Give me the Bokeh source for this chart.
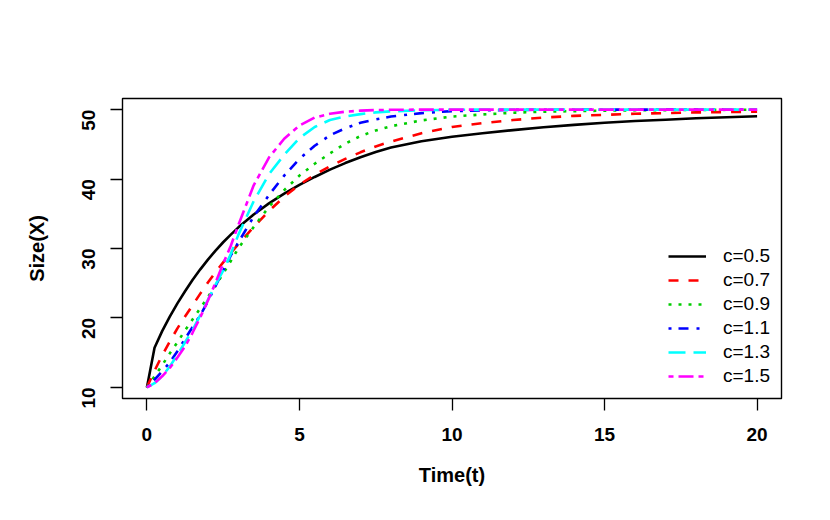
import math
from bokeh.plotting import figure
from bokeh.models import Range1d, FixedTicker, Legend
from bokeh.embed import file_html
from bokeh.resources import INLINE

# ---- data ----
t = [0, 0.25, 0.5, 0.75, 1, 1.25, 1.5, 1.75, 2, 2.25, 2.5, 2.75, 3, 3.5, 4, 4.5,
     5, 5.5, 6, 6.5, 7, 7.5, 8, 9, 10, 11, 12, 13, 14, 15, 16, 17, 18, 19, 20]

c05 = [10, 15.7, 18.1, 20.2, 22.1, 23.85, 25.5, 27.0, 28.4, 29.7, 30.9, 32.0, 33.05, 34.9,
       36.5, 37.9, 39.15, 40.3, 41.35, 42.3, 43.15, 43.9, 44.55, 45.45, 46.1, 46.6, 47.05, 47.45,
       47.8, 48.1, 48.35, 48.55, 48.75, 48.9, 49.05]
c07 = [10, 12.4, 14.6, 16.6, 18.5, 20.2, 21.85, 23.5, 25.1, 26.6, 28.0, 29.35, 30.65, 33.1,
       35.4, 37.45, 39.2, 40.6, 41.85, 42.9, 43.85, 44.7, 45.4, 46.6, 47.5, 48.05, 48.5, 48.85,
       49.1, 49.25, 49.4, 49.5, 49.6, 49.65, 49.7]
c09 = [10, 11.6, 13.2, 14.9, 16.5, 18.2, 19.8, 21.4, 23.0, 24.7, 26.4, 28.2, 30.05, 33.1,
       36.0, 38.4, 40.5, 42.2, 43.7, 45.1, 46.2, 47.0, 47.6, 48.45, 49.0, 49.3, 49.55, 49.7,
       49.78, 49.85, 49.9, 49.93, 49.95, 49.97, 49.98]
c11 = [10, 11.1, 12.3, 13.6, 15.2, 17.0, 18.7, 20.4, 22.4, 24.6, 26.8, 29.0, 30.9, 34.6,
       37.7, 40.5, 42.9, 44.8, 46.3, 47.3, 48.1, 48.6, 49.0, 49.5, 49.78, 49.9, 49.96, 49.98,
       49.99, 50, 50, 50, 50, 50, 50]
c13 = [10, 10.6, 11.6, 13.0, 14.7, 16.5, 18.3, 20.4, 22.6, 24.8, 26.8, 29.2, 32.0, 36.8,
       40.7, 43.5, 45.9, 47.5, 48.5, 49.0, 49.35, 49.6, 49.75, 49.9, 49.97, 50, 50, 50,
       50, 50, 50, 50, 50, 50, 50]
c15 = [10, 10.6, 11.6, 12.8, 14.3, 15.9, 17.9, 20.1, 22.5, 25.1, 27.8, 30.4, 33.4, 39.1,
       43.1, 45.8, 47.7, 48.85, 49.4, 49.7, 49.85, 49.93, 49.97, 50, 50, 50, 50, 50,
       50, 50, 50, 50, 50, 50, 50]

series = [c05, c07, c09, c11, c13, c15]
labels = ["c=0.5", "c=0.7", "c=0.9", "c=1.1", "c=1.3", "c=1.5"]
x_ticks = [0, 5, 10, 15, 20]
y_ticks = [10, 20, 30, 40, 50]

# ---- styles ----
colors = ["#000000", "#FF0000", "#00CD00", "#0000FF", "#00FFFF", "#FF00FF"]
dashes = ["solid", "10 10", "3 7", "3 7 10 8", "17 8", "5 5 15 5"]
FONT = "Liberation Sans"

p = figure(width=822, height=512, output_backend="svg", toolbar_location=None,
           x_range=Range1d(-0.8, 20.8), y_range=Range1d(8.4, 51.6))
p.min_border_left = 122
p.min_border_right = 41
p.min_border_top = 98
p.min_border_bottom = 114
p.grid.visible = False
p.outline_line_color = "#000000"
p.outline_line_width = 1.4
p.background_fill_color = "white"
p.border_fill_color = "white"

renderers = []
for ys, col, dash in zip(series, colors, dashes):
    r = p.line(t, ys, line_color=col, line_width=2.6, line_dash=dash)
    renderers.append(r)

legend = Legend(items=[(lab, [r]) for lab, r in zip(labels, renderers)],
                location=(546, 10), orientation="vertical")
legend.border_line_color = None
legend.background_fill_alpha = 0
legend.padding = 0
legend.margin = 0
legend.spacing = 0
legend.glyph_width = 38
legend.glyph_height = 24
legend.label_height = 24
legend.label_standoff = 17
legend.label_text_font = FONT
legend.label_text_font_size = "19px"
legend.label_text_color = "#000000"
p.add_layout(legend, "center")

for ax, ticks in ((p.xaxis[0], x_ticks), (p.yaxis[0], y_ticks)):
    ax.ticker = FixedTicker(ticks=ticks)
    ax.minor_tick_line_color = None
    ax.axis_line_color = None
    ax.major_tick_in = 0
    ax.major_tick_out = 12
    ax.major_tick_line_color = "#000000"
    ax.major_tick_line_width = 1.3
    ax.major_label_text_font = FONT
    ax.major_label_text_font_style = "bold"
    ax.major_label_text_font_size = "19px"
    ax.major_label_text_color = "#000000"
    ax.axis_label_text_font = FONT
    ax.axis_label_text_font_style = "bold"
    ax.axis_label_text_font_size = "20px"
    ax.axis_label_text_color = "#000000"

p.xaxis.axis_label = "Time(t)"
p.yaxis.axis_label = "Size(X)"
p.xaxis.major_label_standoff = 17
p.xaxis.axis_label_standoff = 20
p.yaxis.major_label_orientation = math.pi / 2
p.yaxis.major_label_standoff = 22
p.yaxis.axis_label_standoff = 25

open("out.html", "w").write(file_html(p, INLINE))
